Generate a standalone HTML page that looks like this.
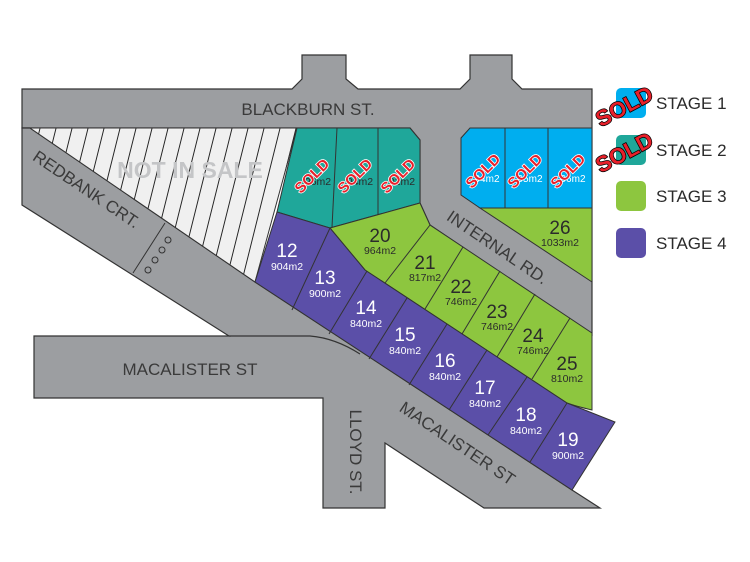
<!DOCTYPE html>
<html><head><meta charset="utf-8"><style>
html,body{margin:0;padding:0;background:#fff;}
svg{display:block;font-family:"Liberation Sans",sans-serif;}
.sold{font-weight:bold;fill:#e8202a;stroke:#fff;stroke-width:1.5;paint-order:stroke;font-family:"Liberation Sans",sans-serif;}
.sold2{font-weight:bold;fill:#e8202a;stroke:#000;stroke-width:1.5;paint-order:stroke;}
.n{fill:#fff;font-size:19px;text-anchor:middle;}
.a{fill:#fff;font-size:10.5px;text-anchor:middle;}
.ng{fill:#2b2b2b;font-size:19px;text-anchor:middle;}
.ag{fill:#2b2b2b;font-size:10.5px;text-anchor:middle;}
.road{fill:#3a3a3a;font-size:17px;}
</style></head><body>
<svg width="750" height="562" viewBox="0 0 750 562">
<defs>
<pattern id="h" width="16" height="200" patternUnits="userSpaceOnUse" patternTransform="skewX(-14)">
<rect width="16" height="200" fill="#f0f0f0"/><line x1="8" y1="0" x2="8" y2="200" stroke="#222" stroke-width="1"/>
</pattern>
</defs>
<polygon points="22,89 292,89 302,79 302,55 346,55 346,79 358,89 460,89 470,79 470,55 512,55 512,79 522,89 592,89 592,335 430,225 420,203 420,140 410,128 22,128" fill="#9c9ea1" stroke="#333" stroke-width="1.2"/>
<polygon points="22,128 30,128 255,282 572,490 600,508 484,508 385,443 385,508 323,508 323,398 34,398 34,336 229,336 22,205" fill="#9c9ea1" stroke="#333" stroke-width="1.2"/>
<path d="M229,336 L310,336 Q335,338 360,354" fill="none" stroke="#333" stroke-width="1.2"/>
<line x1="165" y1="223" x2="133" y2="273" stroke="#333" stroke-width="1"/>
<g fill="none" stroke="#333" stroke-width="1"><circle cx="168" cy="240" r="3"/><circle cx="162" cy="250" r="3"/><circle cx="155" cy="260" r="3"/><circle cx="148" cy="270" r="3"/></g>
<polygon points="30,128 297,128 255,282" fill="url(#h)" stroke="#333" stroke-width="1"/>
<text x="190" y="178" font-size="23" fill="#c4c5c7" text-anchor="middle" font-weight="bold">NOT IN SALE</text>
<polygon points="297,128 410,128 420,140 420,203 330,228 277,212" fill="#1fa79a" stroke="#333" stroke-width="1"/>
<line x1="337" y1="128" x2="332" y2="227" stroke="#333"/>
<line x1="378" y1="128" x2="378" y2="215" stroke="#333"/>
<polygon points="470,128 592,128 592,208 480,208 461,195 461,138" fill="#00aeef" stroke="#333" stroke-width="1"/>
<line x1="505" y1="128" x2="505" y2="208" stroke="#333"/>
<line x1="548" y1="128" x2="548" y2="208" stroke="#333"/>
<polygon points="480,208 592,208 592,282" fill="#8dc63f" stroke="#333" stroke-width="1"/>
<path d="M330,228 L420,203 L430,225 L592,333 L592,410 Q575,406 567,403 L365,270 Z" fill="#8dc63f" stroke="#333" stroke-width="1"/>
<g stroke="#333" stroke-width="1">
<line x1="430" y1="225" x2="385" y2="283"/>
<line x1="463" y1="247" x2="425" y2="309"/>
<line x1="500" y1="271" x2="462" y2="334"/>
<line x1="535" y1="294" x2="497" y2="357"/>
<line x1="570" y1="318" x2="532" y2="379"/>
</g>
<polygon points="277,212 330,228 365,270 567,403 615,422 572,490 255,282" fill="#5b4fa8" stroke="#333" stroke-width="1"/>
<g stroke="#333" stroke-width="1">
<line x1="330" y1="228" x2="292" y2="310"/>
<line x1="367" y1="271" x2="329" y2="334"/>
<line x1="407" y1="298" x2="369" y2="359"/>
<line x1="447" y1="324" x2="409" y2="385"/>
<line x1="487" y1="350" x2="449" y2="410"/>
<line x1="527" y1="377" x2="488" y2="435"/>
<line x1="567" y1="403" x2="530" y2="462"/>
</g>
<text class="n" x="287" y="257">12</text><text class="a" x="287" y="270">904m2</text>
<text class="n" x="325" y="284">13</text><text class="a" x="325" y="297">900m2</text>
<text class="n" x="366" y="314">14</text><text class="a" x="366" y="327">840m2</text>
<text class="n" x="405" y="341">15</text><text class="a" x="405" y="354">840m2</text>
<text class="n" x="445" y="367">16</text><text class="a" x="445" y="380">840m2</text>
<text class="n" x="485" y="394">17</text><text class="a" x="485" y="407">840m2</text>
<text class="n" x="526" y="421">18</text><text class="a" x="526" y="434">840m2</text>
<text class="n" x="568" y="446">19</text><text class="a" x="568" y="459">900m2</text>
<text class="ng" x="380" y="242">20</text><text class="ag" x="380" y="254">964m2</text>
<text class="ng" x="425" y="269">21</text><text class="ag" x="425" y="281">817m2</text>
<text class="ng" x="461" y="293">22</text><text class="ag" x="461" y="305">746m2</text>
<text class="ng" x="497" y="318">23</text><text class="ag" x="497" y="330">746m2</text>
<text class="ng" x="533" y="342">24</text><text class="ag" x="533" y="354">746m2</text>
<text class="ng" x="567" y="370">25</text><text class="ag" x="567" y="382">810m2</text>
<text class="ng" x="560" y="234">26</text><text class="ag" x="560" y="246">1033m2</text>
<text class="ag" x="318" y="185">96m2</text><text class="ag" x="360" y="185">94m2</text><text class="ag" x="402" y="185">92m2</text>
<text x="487" y="182" font-size="10" fill="#fff" text-anchor="middle">94m2</text>
<text x="530" y="182" font-size="10" fill="#fff" text-anchor="middle">95m2</text>
<text x="573" y="182" font-size="10" fill="#fff" text-anchor="middle">96m2</text>
<g font-size="15">
<text class="sold" transform="translate(312,176) rotate(-45)" text-anchor="middle" dy="5">SOLD</text>
<text class="sold" transform="translate(355,176) rotate(-45)" text-anchor="middle" dy="5">SOLD</text>
<text class="sold" transform="translate(398,176) rotate(-45)" text-anchor="middle" dy="5">SOLD</text>
<text class="sold" transform="translate(483,171) rotate(-45)" text-anchor="middle" dy="5">SOLD</text>
<text class="sold" transform="translate(525,171) rotate(-45)" text-anchor="middle" dy="5">SOLD</text>
<text class="sold" transform="translate(568,171) rotate(-45)" text-anchor="middle" dy="5">SOLD</text>
</g>
<text class="road" x="308" y="115" text-anchor="middle">BLACKBURN ST.</text>
<text class="road" transform="translate(86,190) rotate(34)" text-anchor="middle" dy="5">REDBANK CRT.</text>
<text class="road" transform="translate(497,248) rotate(34)" text-anchor="middle" dy="5">INTERNAL RD.</text>
<text class="road" x="190" y="375" text-anchor="middle">MACALISTER ST</text>
<text class="road" transform="translate(457,444) rotate(34)" text-anchor="middle" dy="5">MACALISTER ST</text>
<text class="road" transform="translate(355,452) rotate(90)" text-anchor="middle" dy="5">LLOYD ST.</text>
<rect x="616" y="88" width="30" height="30" rx="5" fill="#00aeef"/>
<rect x="616" y="135" width="30" height="30" rx="5" fill="#1fa79a"/>
<rect x="616" y="181" width="30" height="30" rx="5" fill="#8dc63f"/>
<rect x="616" y="228" width="30" height="30" rx="5" fill="#5b4fa8"/>
<g font-size="17" fill="#2b2b2b">
<text x="656" y="109">STAGE 1</text>
<text x="656" y="156">STAGE 2</text>
<text x="656" y="202">STAGE 3</text>
<text x="656" y="249">STAGE 4</text>
</g>
<text class="sold2" font-size="22" transform="translate(624,106) rotate(-28)" text-anchor="middle" dy="8">SOLD</text>
<text class="sold2" font-size="22" transform="translate(624,152) rotate(-28)" text-anchor="middle" dy="8">SOLD</text>
</svg>
</body></html>
